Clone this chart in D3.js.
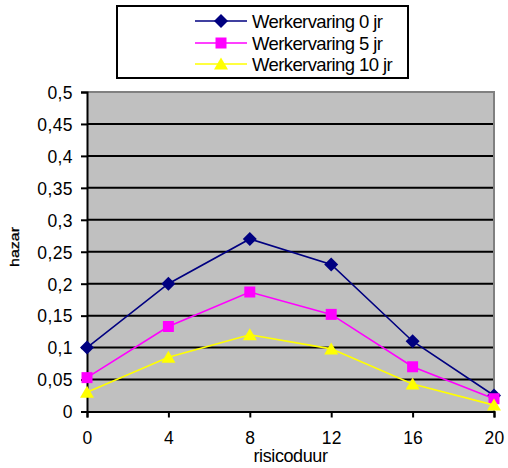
<!DOCTYPE html>
<html>
<head>
<meta charset="utf-8">
<script src="https://cdn.jsdelivr.net/npm/d3@7"></script>
<style>
  html, body { margin: 0; padding: 0; background: #fff; }
  svg { display: block; }
  text { font-family: "Liberation Sans", Arial, sans-serif; fill: #000; }
</style>
</head>
<body>
<svg id="chart" width="508" height="468"></svg>
<script>
// Risk duration (x) and hazard per work-experience group
const risicoduur = [0, 4, 8, 12, 16, 20];
const hazar0jr  = [0.1, 0.2, 0.27, 0.23, 0.11, 0.025];
const hazar5jr  = [0.053, 0.133, 0.187, 0.152, 0.07, 0.02];
const hazar10jr = [0.03, 0.085, 0.12, 0.098, 0.043, 0.01];
const seriesNames = ["Werkervaring 0 jr", "Werkervaring 5 jr", "Werkervaring 10 jr"];
const yTicks = [0, 0.05, 0.1, 0.15, 0.2, 0.25, 0.3, 0.35, 0.4, 0.45, 0.5];
const xTicks = [0, 4, 8, 12, 16, 20];

const series = [
  { name: seriesNames[0], values: hazar0jr,  color: "#000080", marker: "diamond" },
  { name: seriesNames[1], values: hazar5jr,  color: "#FF00FF", marker: "square" },
  { name: seriesNames[2], values: hazar10jr, color: "#FFFF00", marker: "triangle" }
];

const svg = d3.select("#chart");
const plot = { left: 87, right: 494, top: 92, bottom: 411.5 };

const x = d3.scaleLinear().domain([0, 20]).range([plot.left, plot.right]);
const y = d3.scaleLinear().domain([0, 0.5]).range([plot.bottom, plot.top]);

const fmt = d => String(+d.toFixed(2)).replace(".", ",");

// plot background
svg.append("rect")
  .attr("x", plot.left).attr("y", plot.top)
  .attr("width", plot.right - plot.left).attr("height", plot.bottom - plot.top)
  .attr("fill", "#C0C0C0");

// horizontal gridlines
svg.append("g").selectAll("line")
  .data(yTicks.filter(d => d > 0 && d < 0.5))
  .join("line")
  .attr("x1", plot.left).attr("x2", plot.right)
  .attr("y1", d => y(d)).attr("y2", d => y(d))
  .attr("stroke", "#000").attr("stroke-width", 2);

// grey frame on top and right
svg.append("path")
  .attr("d", `M${plot.left},${plot.top}H${plot.right}V${plot.bottom}`)
  .attr("fill", "none").attr("stroke", "#808080").attr("stroke-width", 2);

// y axis
const yAxis = svg.append("g")
  .attr("transform", `translate(${plot.left},0)`)
  .call(d3.axisLeft(y).tickValues(yTicks).tickFormat(fmt).tickSize(6).tickPadding(8));
yAxis.select(".domain").attr("stroke", "#000").attr("stroke-width", 2);
yAxis.selectAll(".tick line").attr("stroke", "#000").attr("stroke-width", 2);
yAxis.selectAll(".tick text")
  .attr("font-size", 17.5).attr("font-family", "Liberation Sans, Arial, sans-serif")
  .attr("letter-spacing", 0.4).attr("dy", "0.36em");

// x axis
const xAxis = svg.append("g")
  .attr("transform", `translate(0,${plot.bottom})`)
  .call(d3.axisBottom(x).tickValues(xTicks).tickSize(6).tickPadding(14));
xAxis.select(".domain").attr("stroke", "#000").attr("stroke-width", 2);
xAxis.selectAll(".tick line").attr("stroke", "#000").attr("stroke-width", 2);
xAxis.selectAll(".tick text")
  .attr("font-size", 17.5).attr("font-family", "Liberation Sans, Arial, sans-serif")
  .attr("letter-spacing", 0.2);

// axis titles
svg.append("text")
  .attr("x", (plot.left + plot.right) / 2).attr("y", 462)
  .attr("text-anchor", "middle").attr("font-size", 18)
  .attr("letter-spacing", -0.4)
  .text("risicoduur");

svg.append("text")
  .attr("transform", "translate(19,247) rotate(-90)")
  .attr("text-anchor", "middle").attr("font-size", 13.5)
  .attr("stroke", "#000").attr("stroke-width", 0.3)
  .attr("textLength", 40).attr("lengthAdjust", "spacingAndGlyphs")
  .text("hazar");

// marker shapes: diamond, square and a slightly wide triangle
const markerPath = {
  diamond: "M0,-7L7,0L0,7L-7,0Z",
  square: "M-5.5,-5.5H5.5V5.5H-5.5Z",
  triangle: "M0,-6.5L7,5.5L-7,5.5Z"
};

const line = d3.line().x((d, i) => x(risicoduur[i])).y(d => y(d));

const seriesG = svg.append("g").selectAll("g")
  .data(series)
  .join("g");

seriesG.append("path")
  .attr("d", s => line(s.values))
  .attr("fill", "none")
  .attr("stroke", s => s.color)
  .attr("stroke-width", 1.6);

seriesG.each(function (s) {
  d3.select(this).selectAll("path.marker")
    .data(s.values)
    .join("path")
    .attr("class", "marker")
    .attr("transform", (d, i) => `translate(${x(risicoduur[i])},${y(d)})`)
    .attr("d", markerPath[s.marker])
    .attr("fill", s.color);
});

// legend
const legend = svg.append("g");
legend.append("rect")
  .attr("x", 117).attr("y", 6).attr("width", 291).attr("height", 72)
  .attr("fill", "#fff").attr("stroke", "#000").attr("stroke-width", 2);

const rowY = [21, 43, 64];
const item = legend.selectAll("g.item")
  .data(series)
  .join("g")
  .attr("class", "item")
  .attr("transform", (s, i) => `translate(0,${rowY[i]})`);

item.append("line")
  .attr("x1", 195).attr("x2", 247).attr("y1", 0).attr("y2", 0)
  .attr("stroke", s => s.color).attr("stroke-width", 1.6);
item.append("path")
  .attr("transform", "translate(221,0)")
  .attr("d", s => markerPath[s.marker])
  .attr("fill", s => s.color);
item.append("text")
  .attr("x", 252).attr("y", 0).attr("dy", "0.36em")
  .attr("font-size", 18.5).attr("letter-spacing", -0.6)
  .text(s => s.name);
</script>
</body>
</html>
